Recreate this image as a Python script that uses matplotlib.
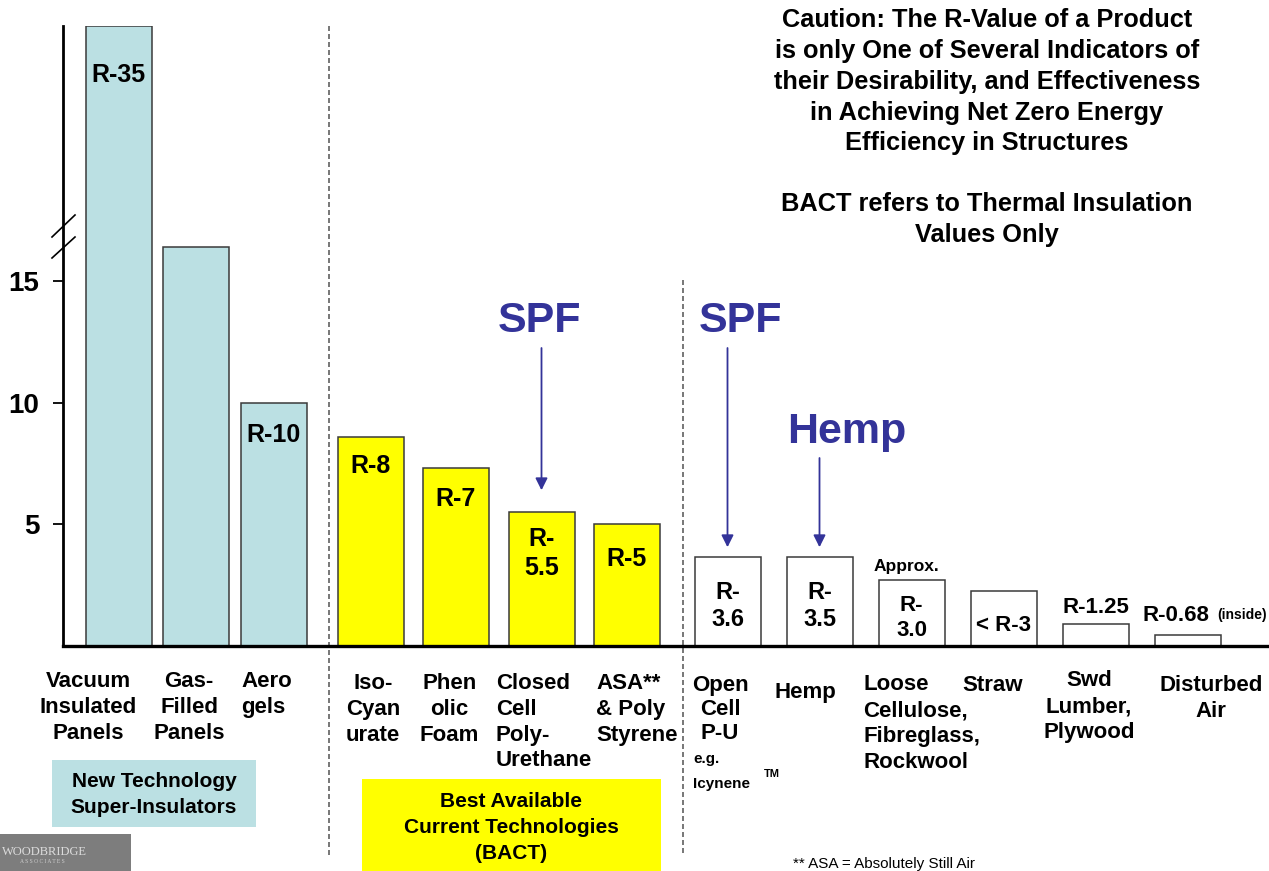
import matplotlib.pyplot as plt
import numpy as np
from matplotlib.patches import Rectangle

plt.rcParams['font.family'] = ['Liberation Sans', 'DejaVu Sans']

W, H = 1269, 871

# products (x categories) and their R-values per inch
products = ['Vacuum\nInsulated\nPanels', 'Gas-\nFilled\nPanels', 'Aero\ngels',
            'Iso-\nCyan\nurate', 'Phen\nolic\nFoam', 'Closed\nCell\nPoly-\nUrethane',
            'ASA**\n& Poly\nStyrene',
            'Open\nCell\nP-U', 'Hemp', 'Loose\nCellulose,\nFibreglass,\nRockwool', 'Straw',
            'Swd\nLumber,\nPlywood', 'Disturbed\nAir']
r_values = [35, 16.4, 10, 8.6, 7.3, 5.5, 5.0, 3.65, 3.65, 2.73, 2.28, 0.9, 0.45]
r_labels = ['R-35', '', 'R-10', 'R-8', 'R-7', 'R-\n5.5', 'R-5',
            'R-\n3.6', 'R-\n3.5', 'R-\n3.0', '< R-3', 'R-1.25', 'R-0.68']
group_sizes = [3, 4, 6]
group_names = ['New Technology\nSuper-Insulators', 'Best Available\nCurrent Technologies\n(BACT)']
yticks = [5, 10, 15]

# ---- layout / styles ----
group_colors = ['#bbe0e3', '#ffff00', 'white']
group_start = [118.5, 370.5, 727.5]
group_step = [77.5, 85.5, 92]
bar_w = 66
# value label placement: offset (px) of label centre from bar top, size
lab_dy = [-49, 0, -32, -29, -31, -41, -35, -49, -49, -38, -35, 17, 20]
lab_dx = [0, 0, 0, 0, 0, 0, 0, 0, 0, 0, 0, 0, -12]
lab_fs = [18, 18, 18, 18, 18, 18, 18, 17, 17, 16, 16, 16, 16]
lab_ls = 1.25
# category label placement: dx from bar centre, cap top (px), alignment, line spacing
cat_dx = [-30.5, -7, -6.5, 2.5, -6.5, 2.5, 9.7, -7.5, -14.5, 10.5, -11, -6.5, 23.5]
cat_top = [671, 671, 671, 673, 673, 673, 673, 675, 682, 674, 675, 670, 675]
cat_align = ['center', 'center', 'left', 'center', 'center', 'left', 'left',
             'center', 'center', 'left', 'center', 'center', 'center']
cat_ls = [1.3] * 7 + [1.2, 1.3, 1.32, 1.3, 1.32, 1.3]

fig = plt.figure(figsize=(W / 100, H / 100), dpi=100)
x0, y_base, y_top = 63, 646, 26
ax = fig.add_axes([x0 / W, (H - y_base) / H, (W - x0) / W, (y_base - y_top) / H])


def fpx(x, y):
    return x / W, 1 - y / H


def yfrac(py):
    return (y_base - py) / (y_base - y_top)


# broken y axis: linear up to 17, compressed above
def fwd(y):
    y = np.asarray(y, dtype=float)
    return np.where(y <= 17, y, 17 + (y - 17) * 0.472)


def inv(v):
    v = np.asarray(v, dtype=float)
    return np.where(v <= 17, v, 17 + (v - 17) / 0.472)


ax.set_yscale('function', functions=(fwd, inv))
ax.set_ylim(0, 35)
ax.set_xlim(x0, W)

xc, colors = [], []
for g, n in enumerate(group_sizes):
    xc += [group_start[g] + i * group_step[g] for i in range(n)]
    colors += [group_colors[g]] * n

ax.bar(xc, r_values, width=bar_w, color=colors, edgecolor='#3a3a3a', linewidth=1.1, zorder=2)

# value labels
for i, lab in enumerate(r_labels):
    if not lab:
        continue
    ax.annotate(lab, xy=(xc[i], r_values[i]), xytext=(lab_dx[i], lab_dy[i]),
                textcoords='offset pixels', ha='center', va='center',
                fontsize=lab_fs[i], fontweight='bold', linespacing=lab_ls, zorder=3)
ax.annotate('Approx.', xy=(xc[9], r_values[9]), xytext=(-5, 13), textcoords='offset pixels',
            ha='center', va='center', fontsize=12.5, fontweight='bold')
ax.annotate('(inside)', xy=(xc[12], r_values[12]), xytext=(30, 20), textcoords='offset pixels',
            ha='left', va='center', fontsize=10, fontweight='bold')

# category labels
for i, name in enumerate(products):
    ax.text(xc[i] + cat_dx[i], yfrac(cat_top[i]), name, transform=ax.get_xaxis_transform(),
            ha='center', va='top', multialignment=cat_align[i], fontsize=16,
            fontweight='bold', linespacing=cat_ls[i])
fig.text(*fpx(693, 752), 'e.g.', ha='left', va='top', fontsize=11, fontweight='bold')
fig.text(*fpx(693, 777), 'Icynene', ha='left', va='top', fontsize=11, fontweight='bold')
fig.text(*fpx(764, 769), 'TM', ha='left', va='top', fontsize=8, fontweight='bold')

# axes styling
for s in ['top', 'right']:
    ax.spines[s].set_visible(False)
ax.spines['left'].set_linewidth(2)
ax.spines['bottom'].set_linewidth(2.4)
ax.spines['bottom'].set_zorder(4)
ax.set_yticks(yticks)
ax.set_yticklabels([str(t) for t in yticks], fontsize=20, fontweight='bold')
ax.tick_params(axis='y', length=7, width=1.3, pad=10)
ax.set_xticks([])
ax.set_facecolor('none')

# axis break marks
for ya, yb in [(237, 215), (258, 237)]:
    ax.plot([(52 - x0) / (W - x0), (75 - x0) / (W - x0)], [yfrac(ya), yfrac(yb)],
            transform=ax.transAxes, color='black', lw=1.2, clip_on=False)

# dashed group separators
for sx, top in [(329, 26), (683, 280)]:
    ax.plot([sx, sx], [yfrac(top), yfrac(855)], transform=ax.get_xaxis_transform(),
            color='#606060', lw=1.2, ls=(0, (3, 1.8)), clip_on=False, zorder=1)

# SPF / Hemp call-outs
blue = '#333399'
for i, start, gap in [(5, 348, 22), (7, 348, 10), (8, 458, 10)]:
    top_px = ax.transData.transform((xc[i], r_values[i]))[1]
    start_off = (H - start) - top_px
    ax.annotate('', xy=(xc[i], r_values[i]), xytext=(0, start_off), textcoords='offset pixels',
                arrowprops=dict(arrowstyle='-|>,head_length=0.6,head_width=0.3', color=blue,
                                lw=1.3, mutation_scale=12, shrinkA=0, shrinkB=gap * 0.72))
fig.text(*fpx(540, 332), 'SPF', ha='center', va='baseline', fontsize=31, fontweight='bold', color=blue)
fig.text(*fpx(740.5, 332), 'SPF', ha='center', va='baseline', fontsize=31, fontweight='bold', color=blue)
fig.text(*fpx(847, 443), 'Hemp', ha='center', va='baseline', fontsize=31, fontweight='bold', color=blue)

# caution note
fig.text(*fpx(987, 8), 'Caution: The R-Value of a Product\nis only One of Several Indicators of\n'
         'their Desirability, and Effectiveness\nin Achieving Net Zero Energy\nEfficiency in Structures',
         ha='center', va='top', fontsize=18.3, fontweight='bold', linespacing=1.36)
fig.text(*fpx(987, 192), 'BACT refers to Thermal Insulation\nValues Only',
         ha='center', va='top', fontsize=18.3, fontweight='bold', linespacing=1.36)

# group boxes
fig.add_artist(Rectangle(fpx(52, 827), 204 / W, 67 / H, transform=fig.transFigure,
                         facecolor=group_colors[0], edgecolor='none'))
fig.text(*fpx(154, 772), group_names[0], ha='center', va='top', fontsize=15,
         fontweight='bold', linespacing=1.45)
fig.add_artist(Rectangle(fpx(362, 871), 299 / W, 92 / H, transform=fig.transFigure,
                         facecolor=group_colors[1], edgecolor='none'))
fig.text(*fpx(511, 792), group_names[1], ha='center', va='top', fontsize=15,
         fontweight='bold', linespacing=1.45)

fig.text(*fpx(793, 868), '** ASA = Absolutely Still Air', ha='left', va='baseline', fontsize=11)

# logo
fig.add_artist(Rectangle(fpx(0, 871), 131 / W, 37 / H, transform=fig.transFigure,
                         facecolor='#7d7d7d', edgecolor='none'))
fig.text(*fpx(2, 852), 'WOODBRIDGE', ha='left', va='center', fontsize=9,
         family='Liberation Serif', color='#dcdcdc')
fig.text(*fpx(20, 861), 'A S S O C I A T E S', ha='left', va='center', fontsize=4,
         family='Liberation Serif', color='#cfcfcf')

fig.savefig('out.png', dpi=100)
